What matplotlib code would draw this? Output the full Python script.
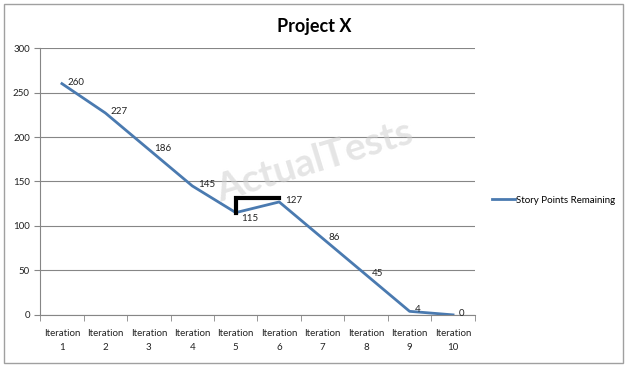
import matplotlib.pyplot as plt
import numpy as np
from matplotlib.patches import Rectangle

plt.rcParams['font.family'] = ['Lato', 'DejaVu Sans']

# chart data
iterations = ['Iteration\n1', 'Iteration\n2', 'Iteration\n3', 'Iteration\n4', 'Iteration\n5',
              'Iteration\n6', 'Iteration\n7', 'Iteration\n8', 'Iteration\n9', 'Iteration\n10']
points_remaining = [260, 227, 186, 145, 115, 127, 86, 45, 4, 0]
series_name = 'Story Points Remaining'
bracket_level = 131

fig = plt.figure(figsize=(6.28, 3.67), dpi=100)
ax = fig.add_axes([0.064, 0.142, 0.692, 0.727])

x = np.arange(len(points_remaining))
line, = ax.plot(x, points_remaining, color='#4A7AB0', linewidth=2, label=series_name)

# data labels, right of each point
for xi, yi in zip(x, points_remaining):
    dy = -4 if yi == 115 else 1
    ax.annotate(str(yi), (xi, yi), xytext=(4, dy), textcoords='offset points',
                fontsize=7, ha='left', va='center', color='#222222')

# black bracket drawn over iterations 5-6
ax.plot([x[4], x[4], x[5]], [points_remaining[4], bracket_level, bracket_level],
        color='black', linewidth=3, solid_joinstyle='miter', zorder=4)

ax.set_xlim(-0.5, len(x) - 0.5)
ax.set_ylim(0, 300)
ax.set_yticks(np.arange(0, 301, 50))
ax.set_xticks(x)
ax.set_xticklabels(iterations, fontsize=7, color='#222222', linespacing=1.7)
ax.set_xticks(np.arange(-0.5, len(x), 1), minor=True)
ax.tick_params(axis='x', which='major', length=0, pad=10)
ax.tick_params(axis='x', which='minor', length=4, color='#868686')
ax.tick_params(axis='y', labelsize=7, length=4, color='#868686', labelcolor='#222222')

ax.grid(axis='y', color='#868686', linewidth=0.8)
ax.set_axisbelow(True)
for side in ['top', 'right']:
    ax.spines[side].set_visible(False)
for side in ['left', 'bottom']:
    ax.spines[side].set_color('#868686')

fig.text(0.5, 0.928, 'Project X', fontsize=13, fontweight='bold', ha='center', va='center')

ax.legend(handles=[line], loc='center left', bbox_to_anchor=(1.02, 0.43), frameon=False,
          fontsize=7, handlelength=2.3, handletextpad=0.1)

# watermark
fig.text(0.5, 0.56, 'ActualTests', fontsize=28, color='#d0d0d0', alpha=0.55,
         rotation=17, ha='center', va='center', fontweight='bold')

fig.patches.append(Rectangle((0.006, 0.01), 0.986, 0.978, transform=fig.transFigure,
                             fill=False, edgecolor='#a0a0a0', linewidth=1))

fig.savefig('out.png', dpi=100)
